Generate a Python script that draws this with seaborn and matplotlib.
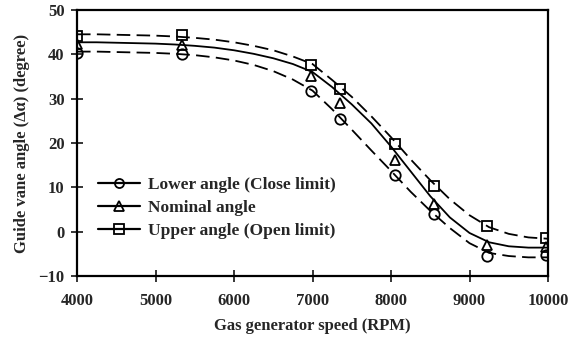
import matplotlib
matplotlib.use("Agg")
import matplotlib.pyplot as plt
import seaborn as sns
import pandas as pd
from matplotlib.lines import Line2D

# ---- data ----
speed_pts = [4000, 5340, 6985, 7345, 8050, 8550, 9225, 9975]
lower_pts = [40.3, 40.0, 31.7, 25.3, 12.8, 4.0, -5.4, -5.2]
nominal_pts = [42.4, 42.0, 35.0, 29.1, 16.2, 6.3, -3.0, -3.4]
upper_pts = [44.1, 44.3, 37.6, 32.2, 19.7, 10.4, 1.3, -1.5]

curve_speed = [4000, 4250, 4500, 4750, 5000, 5250, 5500, 5750, 6000, 6250, 6500,
               6750, 7000, 7250, 7500, 7750, 8000, 8250, 8500, 8750, 9000, 9250,
               9500, 9750, 10000]
lower_curve = [40.6, 40.6, 40.5, 40.4, 40.3, 40.1, 39.8, 39.3, 38.6, 37.6, 36.2,
               34.3, 31.8, 27.6, 23.0, 18.3, 13.7, 9.0, 4.7, 0.8, -2.6, -4.8,
               -5.5, -5.8, -5.8]
nominal_curve = [42.7, 42.7, 42.6, 42.5, 42.4, 42.2, 41.9, 41.5, 40.9, 40.1, 39.1,
                 37.8, 36.0, 32.6, 28.7, 24.4, 19.2, 13.6, 8.0, 3.2, -0.3, -2.4,
                 -3.3, -3.6, -3.6]
upper_curve = [44.5, 44.5, 44.4, 44.3, 44.2, 44.0, 43.7, 43.3, 42.7, 41.9, 40.9,
               39.5, 37.8, 34.2, 30.4, 26.0, 21.3, 16.3, 11.6, 7.3, 3.7, 1.0,
               -0.5, -1.3, -1.6]

labels = ["Lower angle (Close limit)", "Nominal angle", "Upper angle (Open limit)"]
x_ticks = [4000, 5000, 6000, 7000, 8000, 9000, 10000]
y_ticks = [-10, 0, 10, 20, 30, 40, 50]

sns.set_style("ticks")
plt.rcParams["font.family"] = ["Liberation Serif", "DejaVu Serif"]
plt.rcParams["font.weight"] = "bold"

fig = plt.figure(figsize=(5.79, 3.42), dpi=100)
ax = fig.add_axes([0.133, 0.193, 0.8135, 0.778])

dash = (0, (7.5, 3.5))
series = [
    (lower_curve, lower_pts, "o", dash),
    (nominal_curve, nominal_pts, "^", "-"),
    (upper_curve, upper_pts, "s", dash),
]
handles = []
for (curve, pts, mk, ls), lab in zip(series, labels):
    dfc = pd.DataFrame({"x": curve_speed, "y": curve})
    sns.lineplot(data=dfc, x="x", y="y", ax=ax, color="black", linewidth=1.3,
                 linestyle=ls, sort=False, legend=False)
    dfp = pd.DataFrame({"x": speed_pts, "y": pts})
    ax.plot(dfp["x"], dfp["y"], linestyle="none", marker=mk, markersize=7.5,
            markerfacecolor="none", markeredgecolor="black", markeredgewidth=1.3)
    handles.append(Line2D([], [], color="black", linewidth=1.6, linestyle="-",
                          marker=mk, markersize=6.5, markerfacecolor="none",
                          markeredgecolor="black", markeredgewidth=1.3))

ax.set_xlim(4000, 10000)
ax.set_ylim(-10, 50)
ax.set_xticks(x_ticks)
ax.set_yticks(y_ticks)
ax.tick_params(axis="x", direction="inout", length=8, width=1.3, labelsize=12, pad=8)
ax.tick_params(axis="y", direction="inout", length=8, width=1.3, labelsize=12, pad=5)
for t in ax.get_xticklabels() + ax.get_yticklabels():
    t.set_fontweight("bold")
for s in ax.spines.values():
    s.set_visible(True)
    s.set_linewidth(1.6)
    s.set_color("black")

ax.set_xlabel("Gas generator speed (RPM)", fontsize=12, fontweight="bold", labelpad=7)
ax.set_ylabel("Guide vane angle (\u0394\u03b1) (degree)", fontsize=12,
              fontweight="bold", labelpad=6)

leg = ax.legend(handles, labels, loc="upper left", bbox_to_anchor=(0.03, 0.40),
                frameon=False, prop={"size": 12.5, "weight": "bold"},
                handlelength=2.4, handletextpad=0.5, labelspacing=0.4,
                borderaxespad=0)

fig.savefig("out.png", dpi=100)
